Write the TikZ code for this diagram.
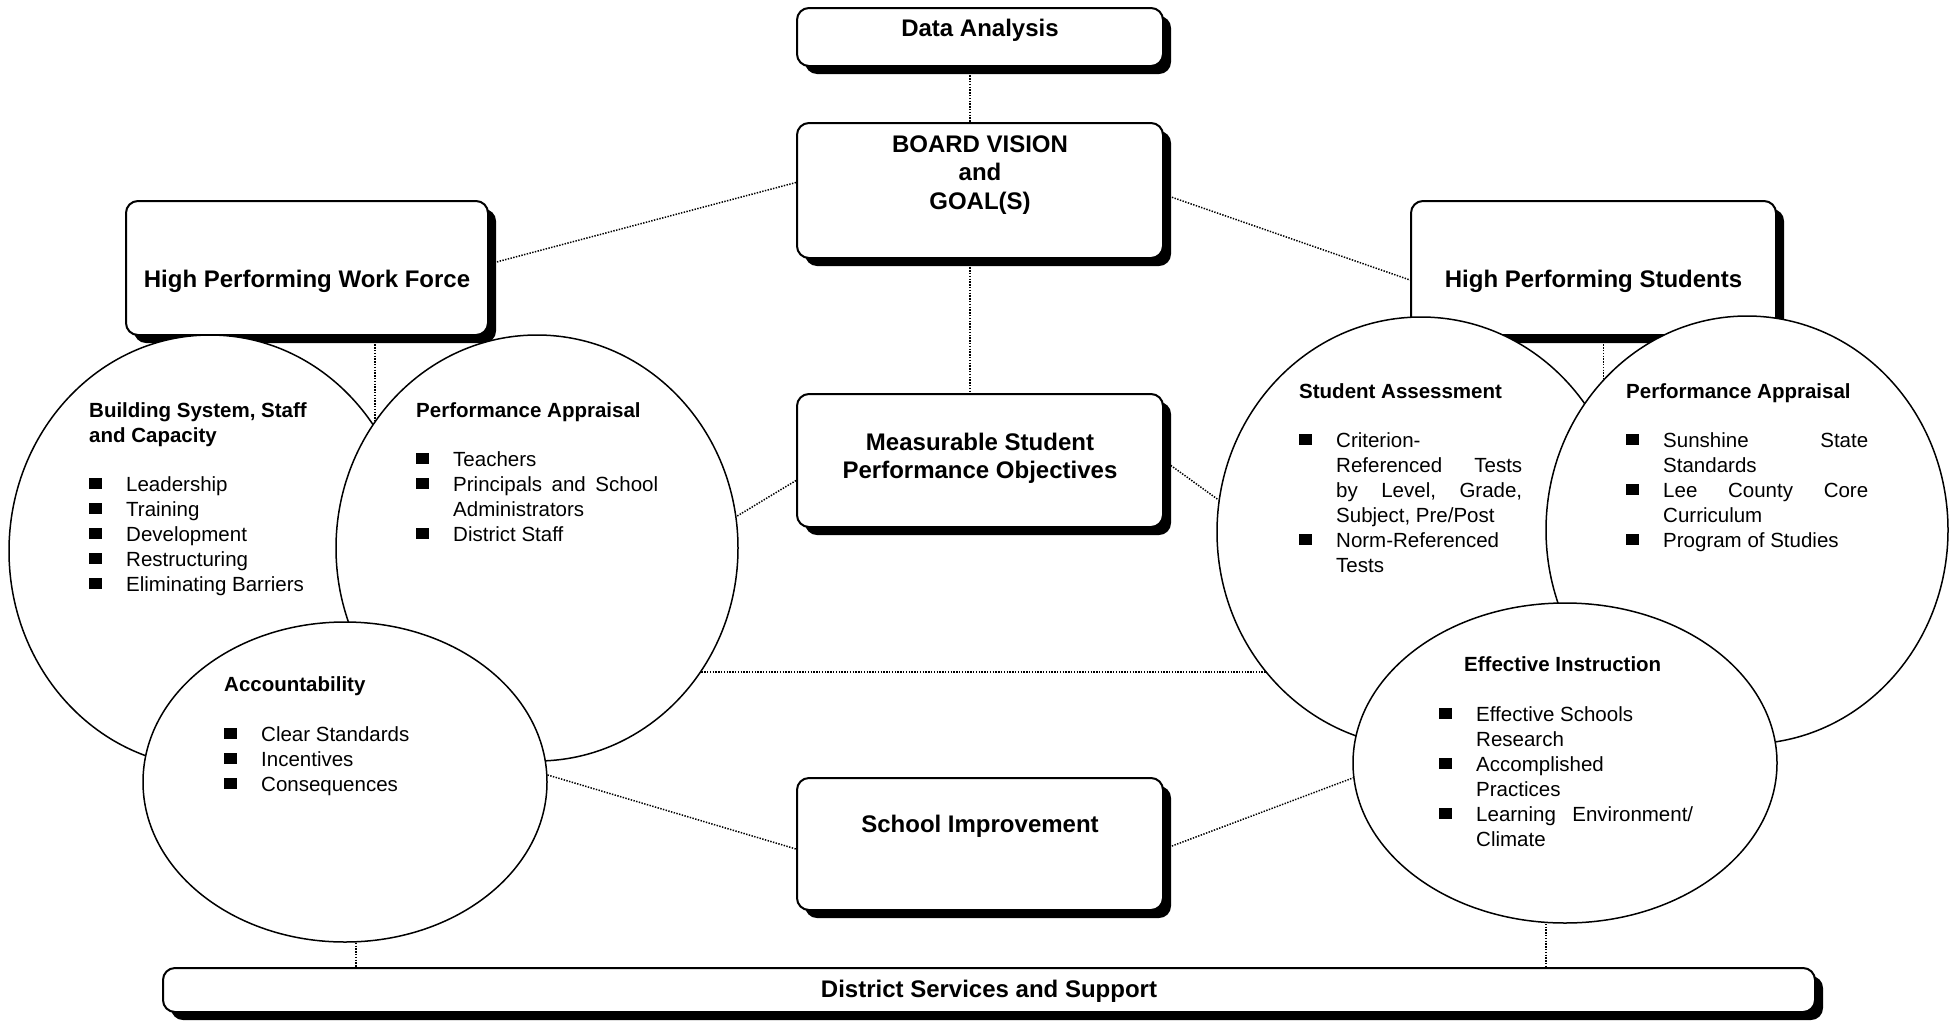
\documentclass[tikz,border=0pt]{standalone}
\usepackage{fontspec}
\setmainfont{Liberation Sans}
\usetikzlibrary{shapes.geometric,shadows,backgrounds}

% square bullet followed by the item indent
\newcommand{\bsq}{\makebox[37pt][l]{\rule[2pt]{12.5pt}{11.5pt}}}
% indent for continuation lines of an item
\newcommand{\cont}{\hspace*{37pt}}
% fixes the height of the first line so its baseline sits 20pt below the node top
\newcommand{\firstln}{\rule{0pt}{20pt}}

\begin{document}
\begin{tikzpicture}[x=1pt,y=-1pt,
  panel/.style={draw, line width=2pt, rounded corners=12pt, fill=white, inner sep=0pt,
    drop shadow={shadow xshift=8pt, shadow yshift=-8pt, opacity=1, fill=black}},
  disc/.style={ellipse, draw, line width=1.5pt, fill=white, inner sep=0pt},
  boxtitle/.style={font=\fontsize{24}{28.5}\selectfont\bfseries, inner sep=0pt, align=center},
  listtext/.style={font=\fontsize{20.5}{25}\selectfont, inner sep=0pt, align=left, anchor=north west},
  link/.style={line width=1.5pt, dash pattern=on 1.4pt off 1.4pt}]

\useasboundingbox (0,0) rectangle (1950,1023);

% ---- central column and side boxes ----
\node[panel, minimum width=366pt, minimum height=58pt] (da) at (980,37) {};
\node[boxtitle, anchor=base] (daT) at (980,36) {Data Analysis};

\node[panel, minimum width=366pt, minimum height=135pt] (bv) at (980,190.5) {};
\node[boxtitle, anchor=north] (bvT) at (980,128) {\rule{0pt}{24pt}BOARD VISION\\and\\GOAL(S)};

\node[panel, minimum width=362pt, minimum height=134pt] (hpwf) at (307,268) {};
\node[boxtitle, anchor=base] (hpwfT) at (307,287.5) {High Performing Work Force};

\node[panel, minimum width=365pt, minimum height=134pt] (hps) at (1593.5,268) {};
\node[boxtitle, anchor=base] (hpsT) at (1593.5,287.5) {High Performing Students};

\node[panel, minimum width=366pt, minimum height=133pt] (mspo) at (980,460.5) {};
\node[boxtitle, anchor=north] (mspoT) at (980,426) {\rule{0pt}{24pt}Measurable Student\\Performance Objectives};

\node[panel, minimum width=366pt, minimum height=132pt] (si) at (980,844) {};
\node[boxtitle, anchor=base] (siT) at (980,832.5) {School Improvement};

\node[panel, minimum width=1652pt, minimum height=44pt] (dss) at (989,990) {};
\node[boxtitle, anchor=base] (dssT) at (989,997.5) {District Services and Support};

% ---- left group of circles ----
\node[disc, minimum width=402pt, minimum height=432pt] (bsc) at (210,551) {};
\node[listtext] (bscT) at (89,397) {\firstln\textbf{Building System, Staff}\\
\textbf{and Capacity}\\[24pt]
\bsq Leadership\\
\bsq Training\\
\bsq Development\\
\bsq Restructuring\\
\bsq Eliminating Barriers};

\node[disc, minimum width=402pt, minimum height=426pt] (lpa) at (537,548) {};
\node[listtext] (lpaT) at (416,397) {\firstln\textbf{Performance Appraisal}\\[24pt]
\bsq Teachers\\
\bsq\makebox[205pt]{Principals\hfill and\hfill School}\\
\cont Administrators\\
\bsq District Staff};

\node[disc, minimum width=404pt, minimum height=320pt] (acc) at (345,782) {};
\node[listtext] (accT) at (224,671) {\firstln\textbf{Accountability}\\[25pt]
\bsq Clear Standards\\
\bsq Incentives\\
\bsq Consequences};

% ---- right group of circles ----
\node[disc, minimum width=408pt, minimum height=430pt] (sa) at (1421,532) {};
\node[listtext] (saT) at (1299,378) {\firstln\textbf{Student Assessment}\\[24pt]
\bsq Criterion-\\
\cont\makebox[186pt]{Referenced\hfill Tests}\\
\cont\makebox[186pt]{by\hfill Level,\hfill Grade,}\\
\cont Subject, Pre/Post\\
\bsq Norm-Referenced\\
\cont Tests};

\node[disc, minimum width=402pt, minimum height=428pt] (rpa) at (1747,530) {};
\node[listtext] (rpaT) at (1626,378) {\firstln\textbf{Performance Appraisal}\\[24pt]
\bsq\makebox[205pt]{Sunshine\hfill State}\\
\cont Standards\\
\bsq\makebox[205pt]{Lee\hfill County\hfill Core}\\
\cont Curriculum\\
\bsq Program of Studies};

\node[disc, minimum width=424pt, minimum height=320pt] (ei) at (1565,763) {};
\node[listtext] (eiT) at (1439,651) {\firstln\hspace*{25pt}\textbf{Effective Instruction}\\[25pt]
\bsq Effective Schools\\
\cont Research\\
\bsq Accomplished\\
\cont Practices\\
\bsq\makebox[217pt]{Learning\hfill Environment/}\\
\cont Climate};

% ---- dotted connectors, kept behind boxes and circles ----
\begin{pgfonlayer}{background}
\draw[link] ([xshift=-10pt]da.south) -- ([xshift=-10pt]bv.north);
\draw[link] ([xshift=-10pt]bv.south) -- ([xshift=-10pt]mspo.north);
\draw[link] ([yshift=8pt]bv.west) -- ([yshift=4pt]hpwf.east);
\draw[link] ([yshift=-4pt]bv.east) -- ([yshift=-12pt]hps.west);
\draw[link] ([yshift=-20pt]mspo.west) -- (lpa.9);
\draw[link] (mspo.east) -- (sa.171);
\draw[link] (lpa.-37) -- (lpa.-37 -| sa.center);
\draw[link] (acc.2) -- ([yshift=-5pt]si.west);
\draw[link] ([yshift=-5pt]si.east) -- (ei.184);
\draw[link] ([xshift=11pt]acc.south) -- ([xshift=11pt]acc.south |- dss.north);
\draw[link] ([xshift=-19pt]ei.south) -- ([xshift=-19pt]ei.south |- dss.north);
\draw[link] ([xshift=68pt]hpwf.south) -- ([xshift=68pt]hpwf.south |- lpa.center);
\draw[link] ([xshift=10pt]hps.south) -- ([xshift=10pt]hps.south |- rpa.center);
\end{pgfonlayer}

\end{tikzpicture}
\end{document}
